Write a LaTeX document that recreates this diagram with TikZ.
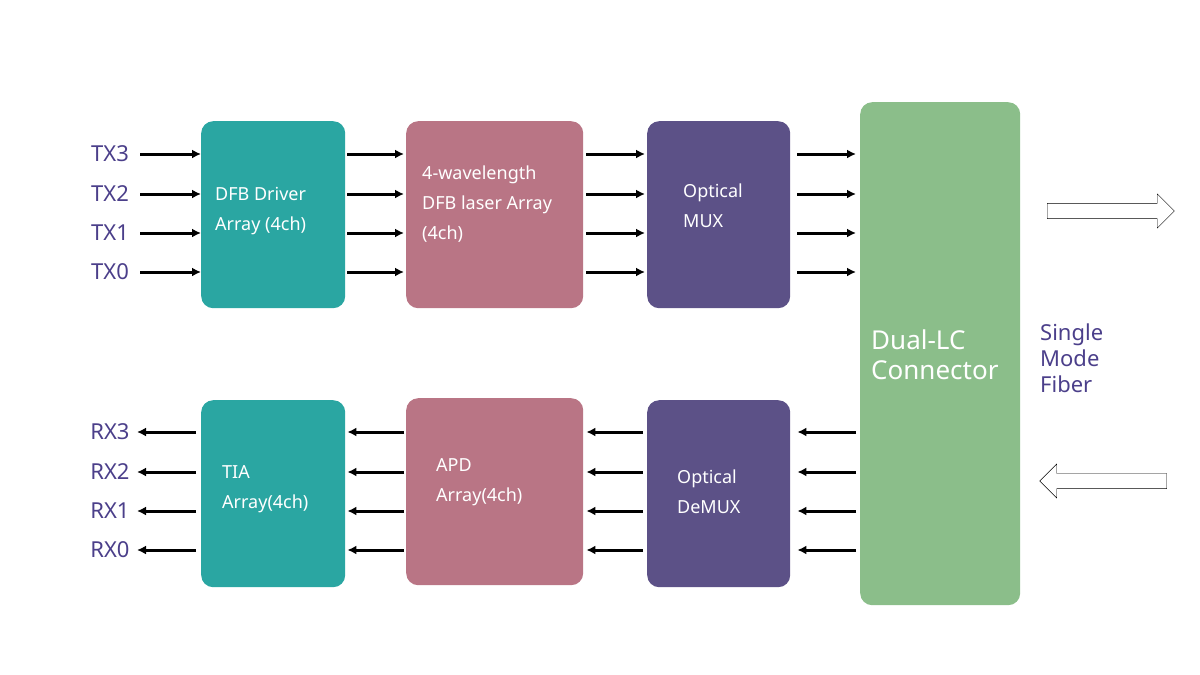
\documentclass[tikz,border=0pt]{standalone}
\usepackage{fontspec}
\setmainfont{Noto Sans}
\usetikzlibrary{positioning,shapes.arrows,arrows.meta}
\definecolor{teal}{HTML}{2AA6A2}
\definecolor{rose}{HTML}{B97585}
\definecolor{plum}{HTML}{5C5187}
\definecolor{leaf}{HTML}{8BBE8A}
\definecolor{ink}{HTML}{4B3F8A}
\begin{document}
\begin{tikzpicture}[x=1pt,y=-1pt]
    \tikzstyle{block}=[rounded corners=12pt,draw=none,anchor=north west,inner sep=0pt]
    \tikzstyle{txt}=[anchor=west,align=left,text=white,font=\fontsize{18}{30}\selectfont,inner sep=0pt]
    \tikzstyle{sig}=[text=ink,font=\fontsize{22}{26}\selectfont,inner sep=0pt]
    \tikzstyle{wire}=[line width=3pt,-{Latex[length=9pt,width=9pt]}]
    \useasboundingbox (0,0) rectangle (1200,675);

    % transmit side
    \node[block,fill=teal,minimum width=144pt,minimum height=187pt](drv) at (201,121){};
    \node[block,fill=rose,minimum width=177pt,minimum height=187pt](laser) at (406,121){};
    \node[block,fill=plum,minimum width=143pt,minimum height=187pt](mux) at (647,121){};
    \node[block,fill=leaf,minimum width=160pt,minimum height=503pt](lc) at (860,102){};
    \node[txt] at (215,211){DFB Driver\\Array (4ch)};
    \node[txt] at (422,204){4-wavelength\\DFB laser Array\\(4ch)};
    \node[txt] at (683,206){Optical\\MUX};
    \node[txt,font=\fontsize{26}{30}\selectfont] at (871,355){Dual-LC\\Connector};

    % receive side
    \node[block,fill=teal,minimum width=144pt,minimum height=187pt](tia) at (201,400){};
    \node[block,fill=rose,minimum width=177pt,minimum height=187pt](apd) at (406,398){};
    \node[block,fill=plum,minimum width=143pt,minimum height=187pt](demux) at (647,400){};
    \node[txt] at (222,489){TIA\\Array(4ch)};
    \node[txt] at (436,482){APD\\Array(4ch)};
    \node[txt] at (677,492){Optical\\DeMUX};

    \foreach \n/\y in {3/154,2/194,1/233,0/272}{
      \node[sig,anchor=center](tx\n) at (110,\y){TX\n};
      \coordinate (ti\n) at (140,\y);
      \draw[wire] (ti\n) -- (drv.west|-ti\n);
      \draw[wire] ([xshift=2pt]drv.east|-ti\n) -- ([xshift=-2pt]laser.west|-ti\n);
      \draw[wire] ([xshift=3pt]laser.east|-ti\n) -- ([xshift=-2pt]mux.west|-ti\n);
      \draw[wire] ([xshift=7pt]mux.east|-ti\n) -- ([xshift=-4pt]lc.west|-ti\n);
    }
    \foreach \n/\y in {3/432,2/472,1/511,0/550}{
      \node[sig,anchor=center](rx\n) at (110,\y){RX\n};
      \coordinate (ro\n) at (137,\y);
      \draw[wire] ([xshift=-5pt]tia.west|-ro\n) -- (ro\n);
      \draw[wire] ([xshift=-2pt]apd.west|-ro\n) -- ([xshift=2pt]tia.east|-ro\n);
      \draw[wire] ([xshift=-4pt]demux.west|-ro\n) -- ([xshift=3pt]apd.east|-ro\n);
      \draw[wire] ([xshift=-4pt]lc.west|-ro\n) -- ([xshift=7pt]demux.east|-ro\n);
    }

    % fiber
    \node[single arrow,draw=black,thin,fill=white,minimum width=34pt,single arrow head extend=4pt,minimum height=127pt,inner sep=3pt](out) at (1107,211){};
    \node[single arrow,draw=black,thin,fill=white,minimum width=34pt,single arrow head extend=4pt,minimum height=127pt,inner sep=3pt,shape border rotate=180](in) at (1107,481){};
    \node[sig,anchor=west,align=left,font=\fontsize{22}{26}\selectfont](smf) at (1040,358){Single\\Mode\\Fiber};
\end{tikzpicture}
\end{document}
